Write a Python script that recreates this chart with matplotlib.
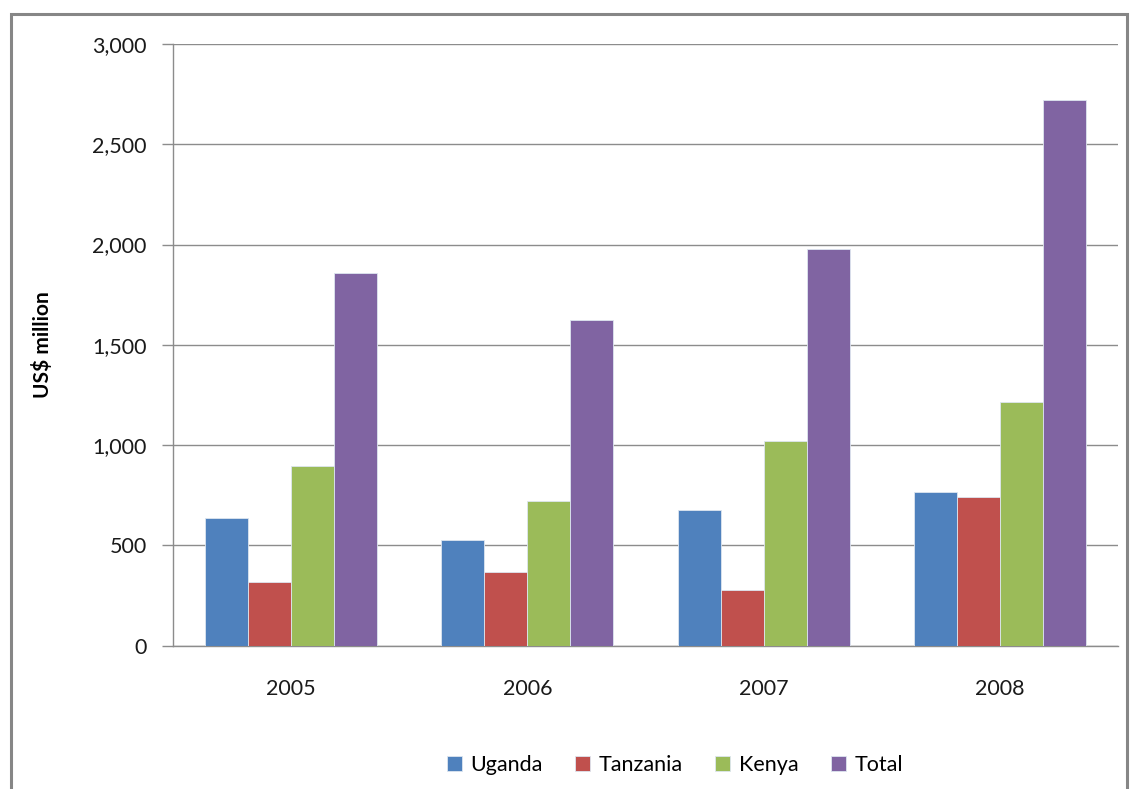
import numpy as np
import matplotlib.pyplot as plt
from matplotlib.patches import Rectangle

years = ["2005", "2006", "2007", "2008"]
uganda = [636, 529, 676, 764]
tanzania = [317, 368, 278, 741]
kenya = [894, 723, 1021, 1214]
total = [1856, 1622, 1977, 2721]

series = [("Uganda", uganda, "#4F81BD"),
          ("Tanzania", tanzania, "#C0504D"),
          ("Kenya", kenya, "#9BBB59"),
          ("Total", total, "#8064A2")]

plt.rcParams["font.family"] = ["Lato", "DejaVu Sans"]

W, H = 1131, 789
fig = plt.figure(figsize=(W / 100, H / 100), dpi=100)
ax = fig.add_axes([173 / W, 1 - 645.7 / H, (1118 - 173) / W, (645.7 - 44) / H])

# outer chart frame
fig.patches.append(Rectangle((11 / W, -0.1), (1127 - 11) / W, 1.1 - 14 / H,
                             transform=fig.transFigure, fill=False,
                             edgecolor="#868686", lw=2.2))

x = np.arange(len(years))
bw = 0.182
for i, (name, vals, col) in enumerate(series):
    ax.bar(x + (i - 1.5) * bw, vals, width=bw, color=col, label=name,
           edgecolor="#dde6f0", linewidth=0.6, zorder=3)

ax.set_xlim(-0.5, len(years) - 0.5)
ax.set_ylim(0, 3000)
ax.set_yticks(np.arange(0, 3001, 500))
ax.set_yticklabels([f"{v:,}" for v in range(0, 3001, 500)])
ax.set_xticks(x)
ax.set_xticklabels(years)
ax.grid(axis="y", color="#8c8c8c", lw=1.0, zorder=0)
for side in ("top", "right"):
    ax.spines[side].set_visible(False)
for side in ("left", "bottom"):
    ax.spines[side].set_color("#8c8c8c")
    ax.spines[side].set_linewidth(1.0)
ax.tick_params(axis="y", length=8, width=1.0, color="#8c8c8c",
               labelsize=15.5, pad=11, labelcolor="#1a1a1a")
ax.tick_params(axis="x", length=0, labelsize=15.5, pad=24, labelcolor="#1a1a1a")
ax.set_ylabel("US$ million", fontsize=15, fontweight="bold", labelpad=28)

ax.legend(loc="upper center", bbox_to_anchor=(0.531, -0.15), ncol=4,
          frameon=False, fontsize=15.5, handlelength=0.7, handleheight=0.7,
          handletextpad=0.4, columnspacing=1.5)

fig.savefig("out.png", dpi=100)
